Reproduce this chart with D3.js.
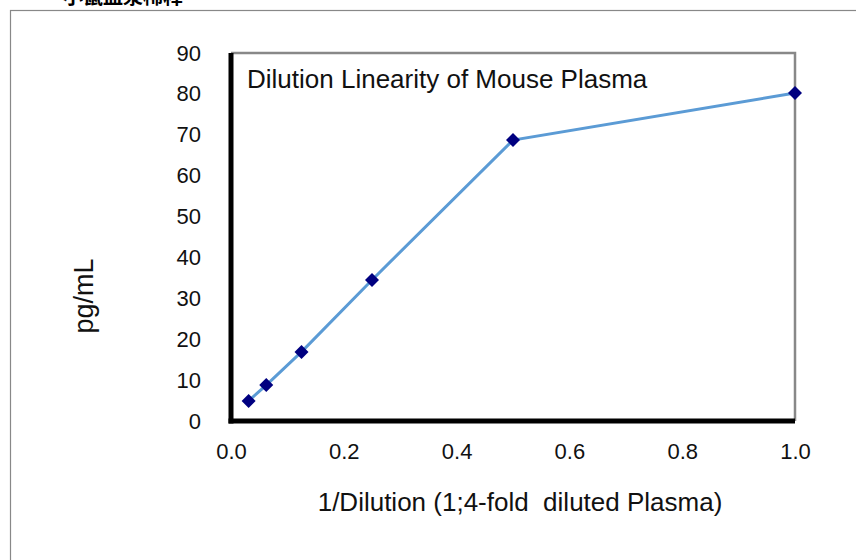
<!DOCTYPE html>
<html>
<head>
<meta charset="utf-8">
<script src="https://cdn.jsdelivr.net/npm/d3@7"></script>
<style>
  body { margin: 0; background: #fff; }
  svg { display: block; font-family: "Liberation Sans", Arial, sans-serif; }
</style>
</head>
<body>
<script>
// data
var dilution = [1/32, 1/16, 1/8, 1/4, 1/2, 1];
var conc = [4.9, 8.8, 16.9, 34.5, 68.7, 80.2];
var xTicks = [0, 0.2, 0.4, 0.6, 0.8, 1.0];
var yTicks = [0, 10, 20, 30, 40, 50, 60, 70, 80, 90];

var outerWidth = 856,
    outerHeight = 560,
    margin = {top: 53, right: 61, bottom: 139, left: 231},
    width = outerWidth - margin.left - margin.right,
    height = outerHeight - margin.top - margin.bottom;

var svg = d3.select("body").append("svg")
    .attr("width", outerWidth)
    .attr("height", outerHeight);

// cropped heading at the very top
svg.append("text")
    .attr("x", 63)
    .attr("y", 4)
    .attr("font-family", "Noto Sans CJK SC")
    .attr("font-size", "20px")
    .attr("font-weight", "700")
    .text("小鼠血浆稀释");

// outer frame
svg.append("rect")
    .attr("x", 10.5)
    .attr("y", 10.5)
    .attr("width", 850)
    .attr("height", 560)
    .style("fill", "none")
    .style("stroke", "#888")
    .style("stroke-width", 1.2);

var g = svg.append("g")
    .attr("transform", "translate(" + margin.left + "," + margin.top + ")");

var x = d3.scaleLinear().domain([0, 1]).range([0, width]);
var y = d3.scaleLinear().domain([0, 90]).range([height, 0]);

// top and right of the plot box
g.append("path")
    .attr("d", "M0,0H" + width + "V" + height)
    .style("fill", "none")
    .style("stroke", "#888")
    .style("stroke-width", 2.5);

var xAxis = d3.axisBottom(x).tickValues(xTicks).tickSize(0).tickPadding(22)
    .tickFormat(d3.format(".1f"));
var yAxis = d3.axisLeft(y).tickValues(yTicks).tickSize(0).tickPadding(30)
    .tickFormat(d3.format("d"));

var gx = g.append("g")
    .attr("transform", "translate(0," + height + ")")
    .call(xAxis);
var gy = g.append("g").call(yAxis);

[gx, gy].forEach(function(a) {
    a.select(".domain").style("stroke", "#000").style("stroke-width", 5);
    a.selectAll("text")
        .attr("font-family", "Liberation Sans, Arial, sans-serif")
        .attr("font-size", "22px")
        .style("fill", "#111");
});
gx.select(".domain").attr("d", "M-2.5,0H" + width);
gy.select(".domain").attr("d", "M0," + (height + 2.5) + "V0");

// line
var line = d3.line()
    .x(function(d, i) { return x(dilution[i]); })
    .y(function(d) { return y(d); });

g.append("path")
    .datum(conc)
    .attr("d", line)
    .style("fill", "none")
    .style("stroke", "#5B9BD5")
    .style("stroke-width", 3);

// diamond markers
g.selectAll(".pt")
    .data(conc)
    .enter().append("path")
    .attr("class", "pt")
    .attr("d", "M0,-7L7,0L0,7L-7,0Z")
    .attr("transform", function(d, i) { return "translate(" + x(dilution[i]) + "," + y(d) + ")"; })
    .style("fill", "#000080");

// chart title inside plot
g.append("text")
    .attr("x", 16)
    .attr("y", 35)
    .attr("font-size", "26px")
    .style("fill", "#111")
    .text("Dilution Linearity of Mouse Plasma");

// axis titles
svg.append("text")
    .attr("transform", "translate(93,296) rotate(-90)")
    .style("text-anchor", "middle")
    .attr("font-size", "27px")
    .style("fill", "#111")
    .text("pg/mL");

svg.append("text")
    .attr("x", 520)
    .attr("y", 511)
    .style("text-anchor", "middle")
    .style("white-space", "pre")
    .attr("font-size", "26px")
    .style("fill", "#111")
    .text("1/Dilution (1;4-fold  diluted Plasma)");
</script>
</body>
</html>
